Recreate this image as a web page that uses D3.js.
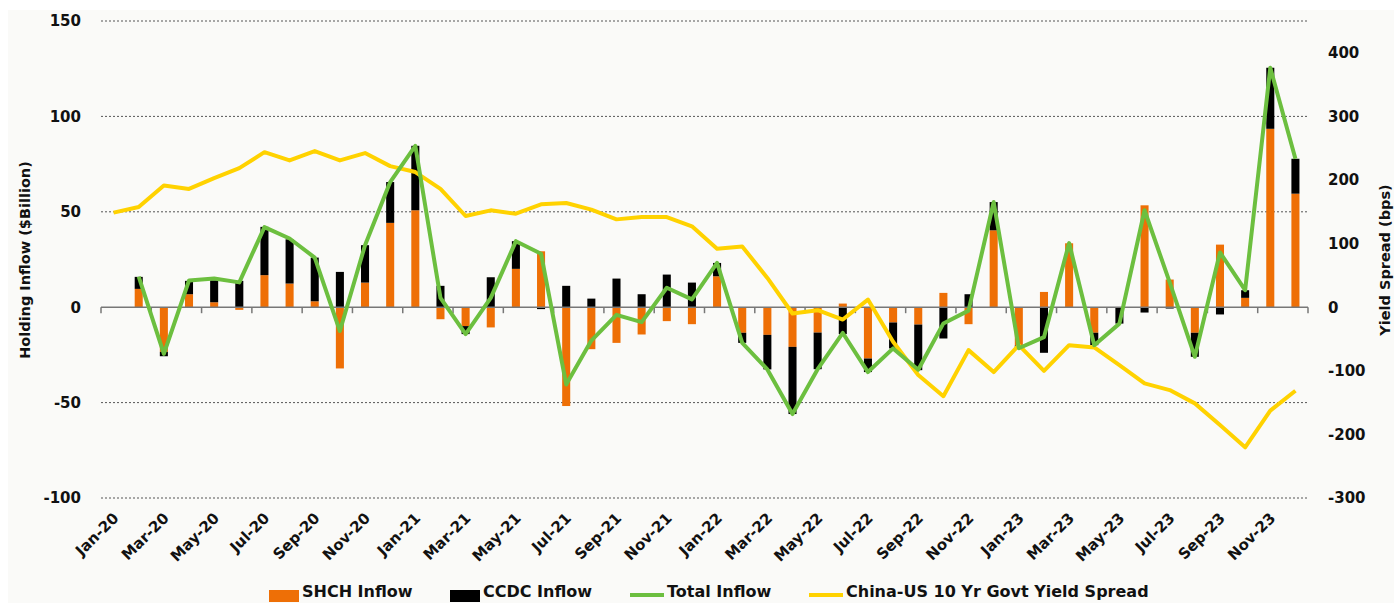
<!DOCTYPE html>
<html>
<head>
<meta charset="utf-8">
<script src="https://cdn.jsdelivr.net/npm/d3@7"></script>
<style>
  body { margin: 0; background: #fff; }
  svg { display: block; font-family: "DejaVu Sans", Verdana, sans-serif; font-weight: bold; }
  .tick-label { font-size: 15px; fill: #111; }
  .axis-title { font-size: 14.5px; fill: #111; }
  .legend-text { font-size: 16px; fill: #111; }
</style>
</head>
<body>
<div id="chart"></div>
<script>
// Monthly data, Jan-20 .. Dec-23
const months = [
  'Jan-20','Feb-20','Mar-20','Apr-20','May-20','Jun-20','Jul-20','Aug-20','Sep-20','Oct-20','Nov-20','Dec-20',
  'Jan-21','Feb-21','Mar-21','Apr-21','May-21','Jun-21','Jul-21','Aug-21','Sep-21','Oct-21','Nov-21','Dec-21',
  'Jan-22','Feb-22','Mar-22','Apr-22','May-22','Jun-22','Jul-22','Aug-22','Sep-22','Oct-22','Nov-22','Dec-22',
  'Jan-23','Feb-23','Mar-23','Apr-23','May-23','Jun-23','Jul-23','Aug-23','Sep-23','Oct-23','Nov-23','Dec-23'
];

// SHCH inflow ($bn)
const shchInflow = [
  null, 9.6, -23.4, 6.8, 2.6, -1.4, 16.8, 12.4, 3.1, -32.1, 12.9, 44.2,
  50.8, -6.3, -9.9, -10.6, 20.1, 29.3, -51.8, -22.0, -18.7, -14.3, -7.3, -8.9,
  16.2, -13.4, -14.5, -20.8, -13.3, 1.9, -26.9, -8.0, -9.1, 7.5, -8.9, 40.3,
  -20.0, 8.0, 33.5, -13.4, 0, 53.4, 14.5, -13.4, 32.8, 4.9, 93.5, 59.5
];

// CCDC inflow ($bn)
const ccdcInflow = [
  null, 6.3, -2.3, 7.0, 11.5, 13.8, 25.3, 23.2, 22.9, 18.5, 19.6, 21.4,
  33.8, 11.2, -4.2, 15.7, 14.5, -1.0, 11.2, 4.5, 15.0, 6.8, 17.1, 12.9,
  7.0, -5.3, -18.1, -35.2, -19.2, -14.1, -7.1, -13.6, -23.9, -16.4, 6.8, 14.8,
  -1.5, -23.9, 0, -6.5, -8.6, -2.8, -0.7, -12.6, -3.8, 4.0, 32.0, 18.3
];

// Total inflow ($bn)
const totalInflow = [
  null, 16.0, -24.5, 14.0, 15.0, 13.0, 42.0, 36.0, 26.0, -12.5, 32.5, 65.6,
  84.6, 4.9, -14.1, 4.9, 34.6, 28.0, -40.5, -17.5, -4.0, -7.8, 10.2, 4.1,
  23.2, -18.7, -32.6, -56.0, -32.5, -13.5, -34.0, -21.6, -32.8, -8.5, -1.8, 55.1,
  -21.5, -15.7, 33.6, -19.9, -8.6, 50.8, 13.0, -26.0, 28.7, 8.9, 125.5, 77.8
];

// China-US 10Y govt yield spread (bps)
const yieldSpread = [
  148.7, 157.5, 191.5, 186, 203, 218.7, 243.8, 230.8, 245.4, 230.8, 242.3, 221.8,
  212.5, 186, 143.4, 152.3, 147, 161.7, 163.8, 153.4, 138.1, 141.8, 141.8, 127.2,
  92, 95.5, 46, -9.9, -4.7, -19.4, 12, -54.4, -106.7, -140, -67.5, -102,
  -59.7, -100, -59.7, -63.3, -91, -119.8, -130.3, -151.2, -185.2, -220.3, -162.7, -131.3
];

const leftTicks = [-100, -50, 0, 50, 100, 150];
const rightTicks = [-300, -200, -100, 0, 100, 200, 300, 400];

const colors = { shch: '#ee6f06', ccdc: '#000000', total: '#6cbf3f', spread: '#ffd200' };

const width = 1394, height = 603;
const margin = { top: 21, right: 86, bottom: 105, left: 101 };
const innerW = width - margin.left - margin.right;
const innerH = height - margin.top - margin.bottom;

const svg = d3.select('#chart').append('svg')
  .attr('width', width)
  .attr('height', height);

// light chart background
svg.append('rect')
  .attr('x', 8).attr('y', 10)
  .attr('width', width - 8).attr('height', height - 10)
  .attr('fill', '#fafaf8');

const chart = svg.append('g')
  .attr('transform', `translate(${margin.left},${margin.top})`);

const xScale = d3.scaleBand()
  .domain(months)
  .range([0, innerW])
  .paddingInner(0.68)
  .paddingOuter(0.34);

const yLeft = d3.scaleLinear().domain([-100, 150]).range([innerH, 0]);
const yRight = d3.scaleLinear().domain([-300, 450]).range([innerH, 0]);

const xMid = d => xScale(d) + xScale.bandwidth() / 2;

// gridlines (dotted), skipping zero
chart.append('g')
  .selectAll('line')
  .data(leftTicks.filter(t => t !== 0))
  .join('line')
  .attr('x1', 0).attr('x2', innerW)
  .attr('y1', d => yLeft(d)).attr('y2', d => yLeft(d))
  .attr('stroke', '#555')
  .attr('stroke-width', 1)
  .attr('stroke-dasharray', '2,2');

// stacked bars
const table = months.map((m, i) => ({ month: m, shch: shchInflow[i] || 0, ccdc: ccdcInflow[i] || 0 }));
const stack = d3.stack().keys(['shch', 'ccdc']).offset(d3.stackOffsetDiverging);
const series = stack(table);

chart.append('g')
  .selectAll('g')
  .data(series)
  .join('g')
  .attr('fill', d => colors[d.key])
  .selectAll('rect')
  .data(d => d)
  .join('rect')
  .attr('x', d => xScale(d.data.month))
  .attr('width', xScale.bandwidth())
  .attr('y', d => yLeft(Math.max(d[0], d[1])))
  .attr('height', d => Math.abs(yLeft(d[0]) - yLeft(d[1])));

// x axis line at zero with ticks every two months
const xAxisG = chart.append('g').attr('transform', `translate(0,${yLeft(0)})`);
xAxisG.append('line')
  .attr('x1', 0).attr('x2', innerW)
  .attr('stroke', '#777').attr('stroke-width', 1.5);

const tickIdx = d3.range(0, months.length + 1, 2);
xAxisG.selectAll('.xtick')
  .data(tickIdx)
  .join('line')
  .attr('class', 'xtick')
  .attr('x1', i => i < months.length ? xScale(months[i]) - xScale.step() * xScale.paddingOuter() : innerW)
  .attr('x2', i => i < months.length ? xScale(months[i]) - xScale.step() * xScale.paddingOuter() : innerW)
  .attr('y1', 0).attr('y2', 6)
  .attr('stroke', '#777').attr('stroke-width', 1.5);

// green total line
const totalLine = d3.line()
  .defined(d => d.v !== null)
  .x(d => xMid(d.m))
  .y(d => yLeft(d.v));

// yellow spread line
const spreadLine = d3.line()
  .x(d => xMid(d.m))
  .y(d => yRight(d.v));

chart.append('path')
  .datum(months.map((m, i) => ({ m: m, v: yieldSpread[i] })))
  .attr('fill', 'none')
  .attr('stroke', colors.spread)
  .attr('stroke-width', 4)
  .attr('stroke-linejoin', 'round')
  .attr('d', spreadLine);

chart.append('path')
  .datum(months.map((m, i) => ({ m: m, v: totalInflow[i] })))
  .attr('fill', 'none')
  .attr('stroke', colors.total)
  .attr('stroke-width', 4)
  .attr('stroke-linejoin', 'round')
  .attr('d', totalLine);

// left axis labels
chart.append('g')
  .selectAll('text')
  .data(leftTicks)
  .join('text')
  .attr('class', 'tick-label')
  .attr('x', -20)
  .attr('y', d => yLeft(d))
  .attr('dy', '0.36em')
  .attr('text-anchor', 'end')
  .text(d => d);

// right axis labels
chart.append('g')
  .selectAll('text')
  .data(rightTicks)
  .join('text')
  .attr('class', 'tick-label')
  .attr('x', innerW + 20)
  .attr('y', d => yRight(d))
  .attr('dy', '0.36em')
  .attr('text-anchor', 'start')
  .text(d => d);

// rotated month labels
chart.append('g')
  .selectAll('text')
  .data(months.filter((m, i) => i % 2 === 0))
  .join('text')
  .attr('class', 'tick-label')
  .attr('text-anchor', 'end')
  .attr('transform', d => `translate(${xMid(d) + 6},${innerH + 21}) rotate(-45)`)
  .text(d => d);

// axis titles
svg.append('text')
  .attr('class', 'axis-title')
  .attr('text-anchor', 'middle')
  .attr('transform', `translate(30,260) rotate(-90)`)
  .text('Holding Inflow ($Billion)');

svg.append('text')
  .attr('class', 'axis-title')
  .attr('text-anchor', 'middle')
  .attr('transform', `translate(1390,260) rotate(-90)`)
  .text('Yield Spread (bps)');

// legend
const legendY = 597;
const legend = svg.append('g');
const legendItems = [
  { label: 'SHCH Inflow', color: colors.shch, type: 'rect', x: 269 },
  { label: 'CCDC Inflow', color: colors.ccdc, type: 'rect', x: 450 },
  { label: 'Total Inflow', color: colors.total, type: 'line', x: 630 },
  { label: 'China-US 10 Yr Govt Yield Spread', color: colors.spread, type: 'line', x: 809 }
];

legendItems.forEach(item => {
  if (item.type === 'rect') {
    legend.append('rect')
      .attr('x', item.x).attr('y', legendY - 7)
      .attr('width', 30).attr('height', 12)
      .attr('fill', item.color);
  } else {
    legend.append('line')
      .attr('x1', item.x).attr('x2', item.x + 34)
      .attr('y1', legendY - 2).attr('y2', legendY - 2)
      .attr('stroke', item.color).attr('stroke-width', 4);
  }
  legend.append('text')
    .attr('class', 'legend-text')
    .attr('x', item.x + (item.type === 'rect' ? 33 : 37))
    .attr('y', legendY)
    .text(item.label);
});
</script>
</body>
</html>
